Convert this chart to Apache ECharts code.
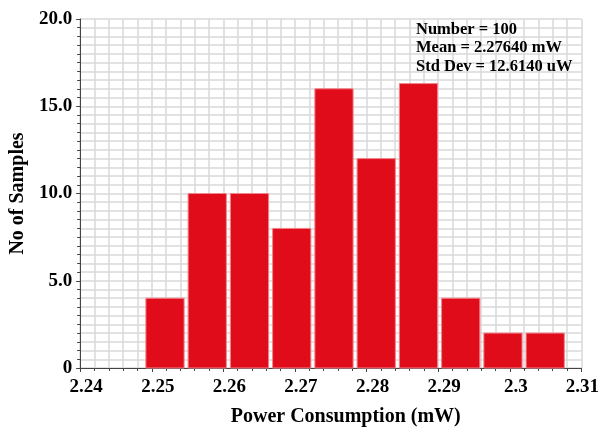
<!DOCTYPE html>
<html>
<head>
<meta charset="utf-8">
<script src="https://cdn.jsdelivr.net/npm/echarts@6/dist/echarts.min.js"></script>
<style>
html,body{margin:0;padding:0;background:#fff;}
#chart{width:602px;height:432px;}
</style>
</head>
<body>
<div id="chart"></div>
<script>
// Histogram bin edges (mW) and counts
const binEdges = [2.2489, 2.2548, 2.2607, 2.2666, 2.2725, 2.2784, 2.2843, 2.2902, 2.2961, 2.3020, 2.3079];
const counts = [4, 10, 10, 8, 16, 12, 16.3, 4, 2, 2];
const xTicks = [2.24, 2.25, 2.26, 2.27, 2.28, 2.29, 2.3, 2.31];
const yTicks = [0, 5, 10, 15, 20];
const statsLines = ['Number = 100', 'Mean = 2.27640 mW', 'Std Dev = 12.6140 uW'];

const FONT = '"Liberation Serif", "Times New Roman", serif';
const data = counts.map((c, i) => [binEdges[i], binEdges[i + 1], c]);

const chart = echarts.init(document.getElementById('chart'), null, {renderer: 'canvas'});
chart.setOption({
  animation: false,
  backgroundColor: '#fff',
  grid: {left: 80, right: 20, top: 19, bottom: 57, containLabel: false},
  xAxis: {
    type: 'value',
    min: xTicks[0], max: xTicks[xTicks.length - 1], interval: 0.01,
    name: 'Power Consumption (mW)', nameLocation: 'middle', nameGap: 39,
    nameTextStyle: {fontFamily: FONT, fontWeight: 'bold', fontSize: 20, color: '#000', padding: [0, 0, 0, 30]},
    axisLine: {show: true, lineStyle: {color: '#444', width: 1}},
    axisTick: {show: true, length: 4, lineStyle: {color: '#444'}},
    minorTick: {show: true, splitNumber: 5, length: 3, lineStyle: {color: '#444'}},
    splitLine: {show: true, lineStyle: {color: '#d9d9d9', width: 1.5}},
    minorSplitLine: {show: true, lineStyle: {color: '#d9d9d9', width: 1.5}},
    axisLabel: {
      margin: 10, color: '#000',
      formatter: v => {
        const s = String(+v.toFixed(2));
        return v > 2.305 ? '{l|' + s + '}' : '{n|' + s + '}';
      },
      rich: {
        n: {fontFamily: FONT, fontWeight: 'bold', fontSize: 19, color: '#000', padding: [0, 0, 0, 12]},
        l: {fontFamily: FONT, fontWeight: 'bold', fontSize: 19, color: '#000', padding: [0, 0, 0, 2]}
      }
    }
  },
  yAxis: {
    type: 'value',
    min: yTicks[0], max: yTicks[yTicks.length - 1], interval: 5,
    name: 'No of Samples', nameLocation: 'middle', nameGap: 47, nameRotate: 90,
    nameTextStyle: {fontFamily: FONT, fontWeight: 'bold', fontSize: 20, color: '#000'},
    axisLine: {show: true, lineStyle: {color: '#444', width: 1}},
    axisTick: {show: true, length: 4, lineStyle: {color: '#444'}},
    minorTick: {show: true, splitNumber: 10, length: 3, lineStyle: {color: '#444'}},
    splitLine: {show: true, lineStyle: {color: '#d9d9d9', width: 1.5}},
    minorSplitLine: {show: true, lineStyle: {color: '#d9d9d9', width: 1.5}},
    axisLabel: {
      margin: 8, fontFamily: FONT, fontWeight: 'bold', fontSize: 19, color: '#000',
      formatter: v => v === 0 ? '0' : v.toFixed(1)
    }
  },
  series: [{
    type: 'custom',
    data: data,
    encode: {x: [0, 1], y: 2},
    renderItem: (params, api) => {
      const p0 = api.coord([api.value(0), api.value(2)]);
      const p1 = api.coord([api.value(1), 0]);
      return {
        type: 'rect',
        shape: {x: p0[0] + 2, y: p0[1], width: p1[0] - p0[0] - 4, height: p1[1] - p0[1]},
        style: {fill: '#e00c1a', stroke: '#f3838b', lineWidth: 1}
      };
    }
  }],
  graphic: statsLines.map((t, i) => ({
    type: 'text', left: 416, top: 21 + i * 18.5, z: 100,
    style: {text: t, font: 'bold 16.5px ' + FONT, fill: '#000'}
  }))
});
</script>
</body>
</html>
